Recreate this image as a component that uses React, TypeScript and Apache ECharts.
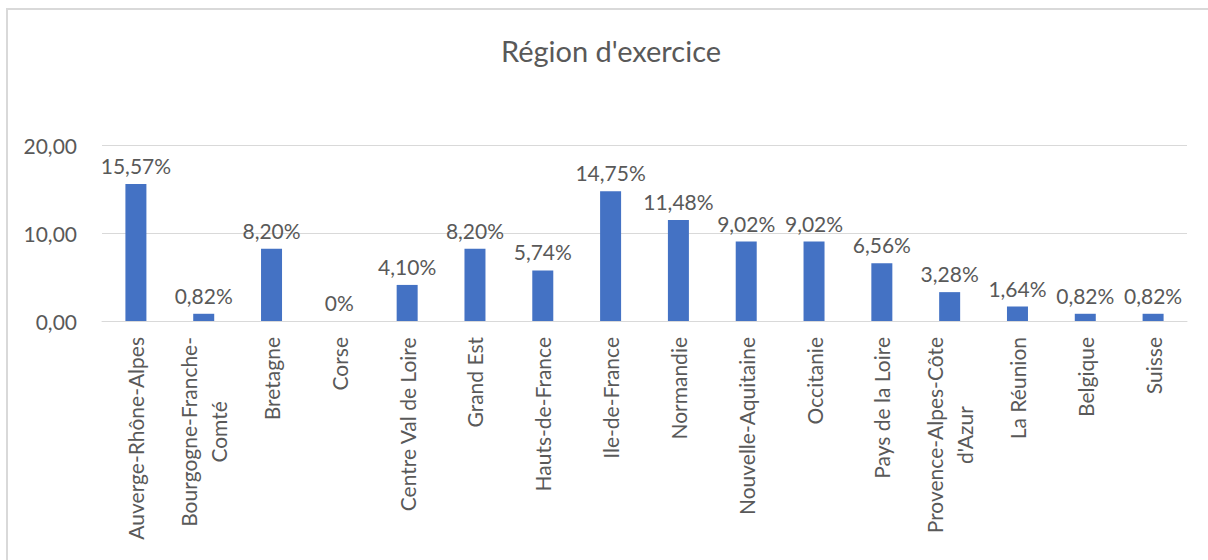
import React, { useEffect, useRef } from "react";
import * as echarts from "echarts";

const categories: string[] = [
  "Auverge-Rhône-Alpes",
  "Bourgogne-Franche-\nComté",
  "Bretagne",
  "Corse",
  "Centre Val de Loire",
  "Grand Est",
  "Hauts-de-France",
  "Ile-de-France",
  "Normandie",
  "Nouvelle-Aquitaine",
  "Occitanie",
  "Pays de la Loire",
  "Provence-Alpes-Côte\nd'Azur",
  "La Réunion",
  "Belgique",
  "Suisse",
];

const values: number[] = [
  15.57, 0.82, 8.2, 0, 4.1, 8.2, 5.74, 14.75, 11.48, 9.02, 9.02, 6.56, 3.28, 1.64, 0.82, 0.82,
];

const yTicks = { min: 0, max: 20, interval: 10 };
const titleText = "Région d'exercice";

const FONT = "Lato";
const TEXT = "#595959";
const GRID = "#D9D9D9";
const FS = 21;

export default function App() {
  const ref = useRef<HTMLDivElement>(null);
  useEffect(() => {
    document.body.style.margin = "0";
    if (!ref.current) return;
    const chart = echarts.init(ref.current, null, { renderer: "svg" });
    chart.setOption({
      animation: false,
      backgroundColor: "#ffffff",
      textStyle: { fontFamily: FONT },
      graphic: [
        {
          type: "rect",
          silent: true,
          shape: { x: 7, y: 9, width: 1400, height: 800 },
          style: { fill: "none", stroke: "#D9D9D9", lineWidth: 2 },
        },
        {
          type: "text",
          x: 611,
          y: 50,
          style: {
            text: titleText,
            fontFamily: FONT,
            fontSize: 29,
            fill: TEXT,
            align: "center",
            verticalAlign: "middle",
          },
        },
      ],
      grid: { left: 102, right: 21, top: 145, bottom: 239, containLabel: false },
      xAxis: {
        type: "category",
        data: categories,
        axisLine: { show: true, lineStyle: { color: GRID, width: 1 } },
        axisTick: { show: false },
        axisLabel: {
          interval: 0,
          rotate: 90,
          margin: 16,
          formatter: (v: string) =>
            v
              .split("\n")
              .map((l) => `{c|${l}}`)
              .join("\n"),
          rich: {
            c: {
              align: "center",
              fontFamily: FONT,
              fontSize: FS,
              color: TEXT,
              lineHeight: 30,
            },
          },
        },
      },
      yAxis: {
        type: "value",
        min: yTicks.min,
        max: yTicks.max,
        interval: yTicks.interval,
        axisLine: { show: false },
        axisTick: { show: false },
        splitLine: { lineStyle: { color: GRID, width: 1 } },
        axisLabel: {
          margin: 25,
          fontFamily: FONT,
          fontSize: FS,
          color: TEXT,
          formatter: (v: number) => v.toFixed(2).replace(".", ","),
        },
      },
      series: [
        {
          type: "bar",
          data: values,
          barWidth: 21,
          itemStyle: { color: "#4472C4" },
          label: {
            show: true,
            position: "top",
            distance: 8,
            fontFamily: FONT,
            fontSize: FS,
            color: TEXT,
            formatter: (p: any) =>
              p.value === 0 ? "0%" : p.value.toFixed(2).replace(".", ",") + "%",
          },
        },
      ],
    });
    return () => chart.dispose();
  }, []);
  return <div ref={ref} style={{ width: 1208, height: 560 }} />;
}
